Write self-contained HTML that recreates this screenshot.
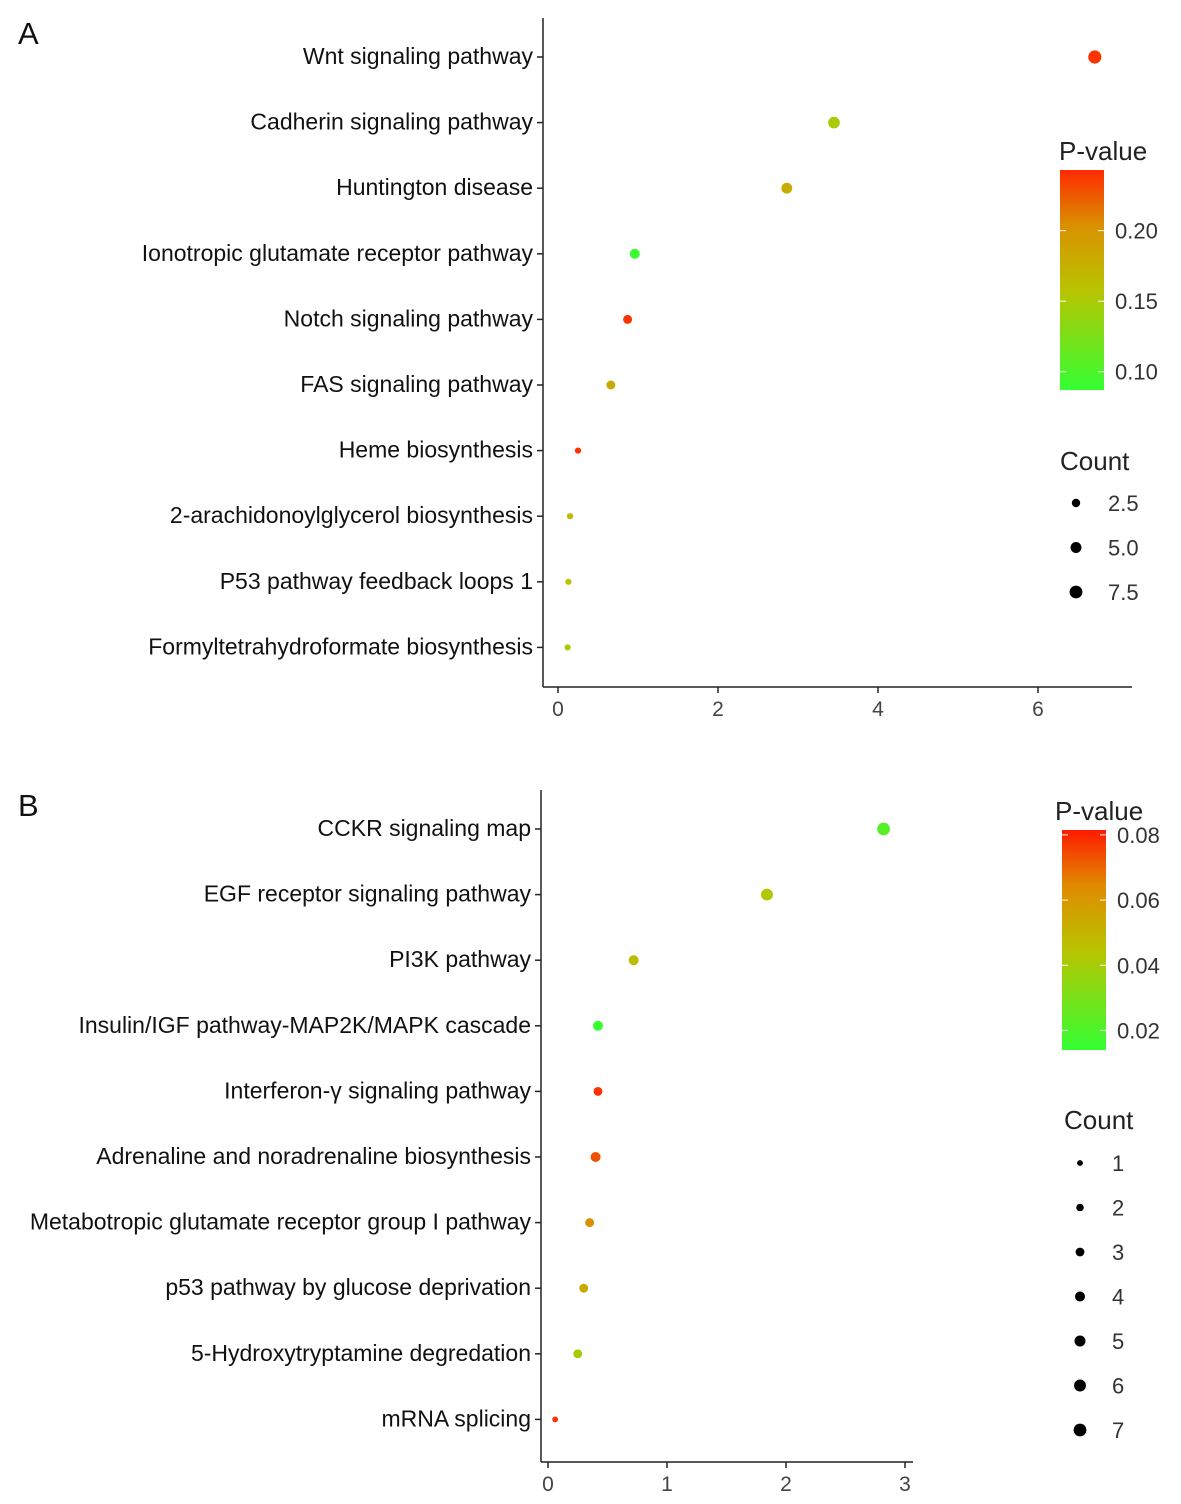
<!DOCTYPE html>
<html><head><meta charset="utf-8"><style>
body{margin:0;background:#fff;}
svg{display:block;font-family:"Liberation Sans",Arial,sans-serif;}
</style></head><body>
<svg id="s" width="1181" height="1504" viewBox="0 0 1181 1504">
<defs>
<linearGradient id="gA" x1="0" y1="1" x2="0" y2="0">
<stop offset="0" stop-color="#33ff33"/><stop offset="0.45" stop-color="#b8c400"/><stop offset="0.75" stop-color="#d99000"/><stop offset="1" stop-color="#ff2a00"/></linearGradient>
<linearGradient id="gB" x1="0" y1="1" x2="0" y2="0">
<stop offset="0" stop-color="#33ff33"/><stop offset="0.45" stop-color="#b8c400"/><stop offset="0.75" stop-color="#e08a00"/><stop offset="1" stop-color="#ff1a00"/></linearGradient>
</defs>
</svg>
<script>
const catsA=["Wnt signaling pathway","Cadherin signaling pathway","Huntington disease","Ionotropic glutamate receptor pathway","Notch signaling pathway","FAS signaling pathway","Heme biosynthesis","2-arachidonoylglycerol biosynthesis","P53 pathway feedback loops 1","Formyltetrahydroformate biosynthesis"];
const valsA=[6.71,3.45,2.86,0.96,0.87,0.66,0.25,0.15,0.13,0.12];
const pA=[0.24,0.15,0.18,0.09,0.24,0.18,0.24,0.17,0.16,0.15];
const cntA=[8,6,5,4,3,3,1,1,1,1];
const ticksA=[0,2,4,6];
const cbTicksA=[0.10,0.15,0.20];
const sizeTicksA=[2.5,5.0,7.5];
const catsB=["CCKR signaling map","EGF receptor signaling pathway","PI3K pathway","Insulin/IGF pathway-MAP2K/MAPK cascade","Interferon-γ signaling pathway","Adrenaline and noradrenaline biosynthesis","Metabotropic glutamate receptor group I pathway","p53 pathway by glucose deprivation","5-Hydroxytryptamine degredation","mRNA splicing"];
const valsB=[2.82,1.84,0.72,0.42,0.42,0.40,0.35,0.30,0.25,0.06];
const pB=[0.022,0.043,0.047,0.015,0.08,0.075,0.065,0.055,0.04,0.08];
const cntB=[7,6,4,4,3,4,3,3,3,1];
const ticksB=[0,1,2,3];
const cbTicksB=[0.02,0.04,0.06,0.08];
const sizeTicksB=[1,2,3,4,5,6,7];

const S=document.getElementById('s');const NS="http://www.w3.org/2000/svg";
function mk(t,a,txt){const e=document.createElementNS(NS,t);for(const k in a)e.setAttribute(k,a[k]);if(txt!==undefined)e.textContent=txt;S.appendChild(e);return e;}
function lerp(a,b,t){return a+(b-a)*t;}
const stops=[[0,[51,255,51]],[0.45,[184,196,0]],[0.75,[217,144,0]],[1,[255,42,0]]];
function col(t){t=Math.max(0,Math.min(1,t));for(let i=1;i<stops.length;i++){if(t<=stops[i][0]){const a=stops[i-1],b=stops[i];const u=(t-a[0])/(b[0]-a[0]);return `rgb(${[0,1,2].map(j=>Math.round(lerp(a[1][j],b[1][j],u))).join(',')})`;}}return 'rgb(255,42,0)';}

function panel(o){
 const xs=v=>o.x0+v*o.ppu;
 const ys=i=>o.y0+i*o.rowH;
 const rs=c=>o.r0+o.rk*Math.sqrt(c);
 const cy=p=>o.cbBot-(p-o.pmin)/(o.pmax-o.pmin)*(o.cbBot-o.cbTop);
 let e=mk('text',{x:o.lx,y:o.ly,'font-size':31,fill:'#111'},o.letter);
 
 e=mk('line',{x1:o.ax,y1:o.axTop,x2:o.ax,y2:o.axBot,stroke:'#222','stroke-width':1.5});
 
 e=mk('line',{x1:o.ax,y1:o.axBot,x2:o.axRight,y2:o.axBot,stroke:'#222','stroke-width':1.5});
 
 o.ticks.forEach(t=>{
  e=mk('line',{x1:xs(t),y1:o.axBot,x2:xs(t),y2:o.axBot+6,stroke:'#222','stroke-width':1.5});
  
  e=mk('text',{x:xs(t),y:o.axBot+29,'font-size':21,fill:'#444','text-anchor':'middle'},String(t));
  
 });
 o.cats.forEach((c,i)=>{
  e=mk('line',{x1:o.ax-6,y1:ys(i),x2:o.ax,y2:ys(i),stroke:'#222','stroke-width':1.5});
  
  e=mk('text',{x:o.ax-10,y:ys(i)+7,'font-size':23,fill:'#111','text-anchor':'end'},c);
  
  e=mk('circle',{cx:xs(o.vals[i]),cy:ys(i),r:rs(o.cnt[i]),fill:col((o.p[i]-o.pmin)/(o.pmax-o.pmin))});
  
 });
 e=mk('text',{x:o.legX,y:o.cbTop-10,'font-size':26,fill:'#222'},'P-value');
 
 e=mk('rect',{x:o.cbX,y:o.cbTop,width:44,height:o.cbBot-o.cbTop,fill:'url(#'+o.grad+')'});
 
 o.cbTicks.forEach(t=>{
  const y=cy(t);
  mk('line',{x1:o.cbX,y1:y,x2:o.cbX+6,y2:y,stroke:'#fff','stroke-width':1});
  mk('line',{x1:o.cbX+38,y1:y,x2:o.cbX+44,y2:y,stroke:'#fff','stroke-width':1});
  e=mk('text',{x:o.cbX+55,y:y+8,'font-size':22,fill:'#333'},t.toFixed(2));
  
 });
 e=mk('text',{x:o.cntX-16,y:o.cntTitleY,'font-size':26,fill:'#222'},'Count');
 
 o.sizeTicks.forEach((t,i)=>{
  const y=o.cntY0+i*o.cntStep;
  e=mk('circle',{cx:o.cntX,cy:y,r:rs(t),fill:'#000'});
  
  e=mk('text',{x:o.cntX+32,y:y+8,'font-size':22,fill:'#333'},o.sizeFmt(t));
  
 });
}
panel({letter:'A',lx:18,ly:44,x0:558,ppu:80,y0:57,rowH:65.6,ax:543,axTop:18,axBot:687,axRight:1132,
 cats:catsA,vals:valsA,p:pA,cnt:cntA,ticks:ticksA,pmin:0.087,pmax:0.243,r0:1.2,rk:1.9,
 legX:1059,cbX:1060,cbTop:170,cbBot:390,grad:'gA',cbTicks:cbTicksA,cntX:1076,cntTitleY:470,cntY0:503,cntStep:44.5,sizeTicks:sizeTicksA,sizeFmt:t=>t.toFixed(1)});
panel({letter:'B',lx:18,ly:816,x0:548,ppu:119,y0:829,rowH:65.6,ax:541,axTop:790,axBot:1462,axRight:913,
 cats:catsB,vals:valsB,p:pB,cnt:cntB,ticks:ticksB,pmin:0.014,pmax:0.0815,r0:0.8,rk:2.1,
 legX:1055,cbX:1062,cbTop:830,cbBot:1050,grad:'gB',cbTicks:cbTicksB,cntX:1080,cntTitleY:1129,cntY0:1163,cntStep:44.5,sizeTicks:sizeTicksB,sizeFmt:t=>String(t)});
</script>
</body></html>
